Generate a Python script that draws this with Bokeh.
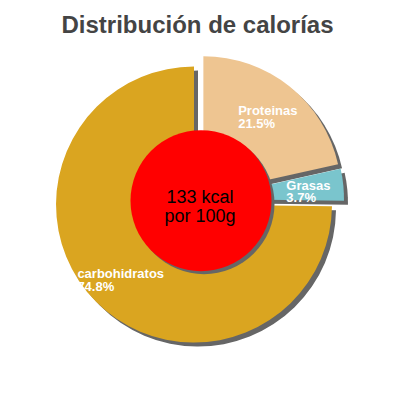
import math
from bokeh.plotting import figure
from bokeh.models import Range1d
from bokeh.embed import file_html
from bokeh.resources import INLINE
from bokeh.core.properties import value

# ---- data ----
title = "Distribución de calorías"
categories = ["Proteinas", "Grasas", "carbohidratos"]
percents = [21.5, 3.7, 74.8]
colors = ["#EEC591", "#7AC5CD", "#DAA520"]
center_lines = ["133 kcal", "por 100g"]

# ---- layout parameters (pixels; data units == screen pixels) ----
W = H = 384
PAGE = 400
CX, CY = 198.5, PAGE - 199.2      # pie centre
R = 138                           # outer radius
EXP = 7                           # explode distance
SH = 4                            # shadow offset
HX, HY, HR = 200.5, PAGE - 200.2, 70.5   # red centre disc
R_LAB = 103
FONT = "Liberation Sans"
SHADOW = "#666666"

# Helvetica-bold widths (per 1000 em) to left-align the two-line labels
BW = {'a': 556, 'b': 611, 'c': 556, 'd': 611, 'e': 556, 'h': 611, 'i': 278,
      'n': 611, 'o': 611, 'r': 389, 's': 556, 't': 333, 'P': 667, 'G': 778,
      '.': 278, '%': 889}
def text_w(s, size):
    return sum(BW.get(ch, 556) for ch in s) * size / 1000.0

p = figure(width=W, height=H, output_backend="svg", toolbar_location=None,
           x_range=Range1d(0, W), y_range=Range1d(PAGE - H, PAGE),
           min_border=0)
p.axis.visible = False
p.grid.visible = False
p.outline_line_color = None

xs, ys, starts, ends, mids = [], [], [], [], []
ang = 90.0
for pct in percents:
    s = ang
    e = ang - pct * 3.6
    m = math.radians((s + e) / 2)
    xs.append(CX + EXP * math.cos(m))
    ys.append(CY + EXP * math.sin(m))
    starts.append(math.radians(s))
    ends.append(math.radians(e))
    mids.append(m)
    ang = e

# shadows
p.wedge(x=[x + SH for x in xs], y=[y - SH for y in ys], radius=R,
        start_angle=starts, end_angle=ends, direction="clock",
        fill_color=SHADOW, line_color=None)
# slices
p.wedge(x=xs, y=ys, radius=R, start_angle=starts, end_angle=ends,
        direction="clock", fill_color=colors, line_color=None)

# centre disc with shadow
p.circle(x=[HX + 3], y=[HY - 3], radius=HR, fill_color=SHADOW, line_color=None)
p.circle(x=[HX], y=[HY], radius=HR, fill_color="#FF0000", line_color=None)

# slice labels
lx, ly, lt = [], [], []
for cat, pct, x, y, m in zip(categories, percents, xs, ys, mids):
    pct_s = f"{pct:.1f}%"
    bx = x + R_LAB * math.cos(m)
    by = y + R_LAB * math.sin(m) + 2
    w = max(text_w(cat, 13), text_w(pct_s, 13))
    left = bx - w / 2
    lx += [left, left]
    ly += [by + 1, by - 11.5]
    lt += [cat, pct_s]
p.text(x=lx, y=ly, text=lt, text_font=value(FONT), text_font_size="13px",
       text_font_style="bold", text_color="white", text_align="left",
       text_baseline="alphabetic")

# centre text
p.text(x=[HX - 1, HX - 1], y=[PAGE - 196, PAGE - 215.7], text=center_lines,
       text_font=value(FONT), text_font_size="18px", text_color="black",
       text_align="center", text_baseline="alphabetic")

# title
p.text(x=[197], y=[PAGE - 24.3], text=[title], text_font=value(FONT),
       text_font_size="24px", text_font_style="bold", text_color="#444444",
       text_align="center", text_baseline="alphabetic")

open("out.html", "w").write(file_html(p, INLINE))
